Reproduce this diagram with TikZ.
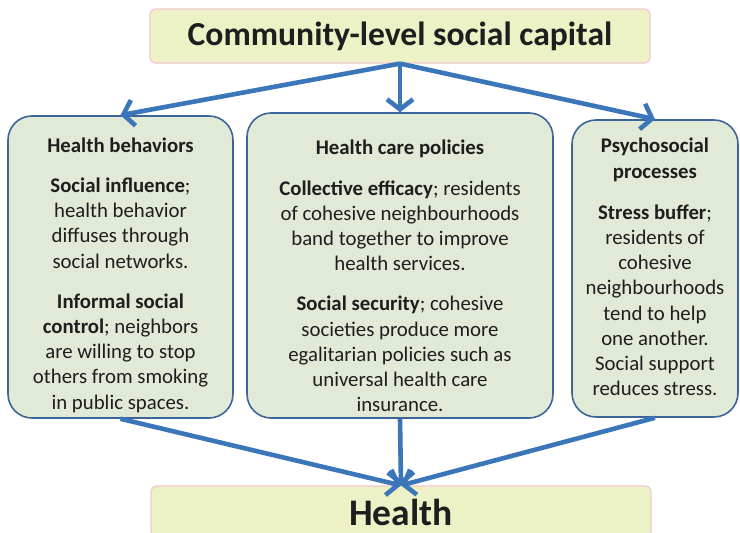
\documentclass[tikz,border=0pt]{standalone}
\usepackage{fontspec}
\setmainfont{Carlito}
\usetikzlibrary{arrows.meta}

\definecolor{capfill}{HTML}{ECF2C6}
\definecolor{capline}{HTML}{F2C8CA}
\definecolor{boxfill}{HTML}{E0EAD6}
\definecolor{boxline}{HTML}{3C6699}
\definecolor{arrowblue}{HTML}{3B76BB}
\definecolor{txt}{HTML}{1E1E1E}

\begin{document}
\begin{tikzpicture}[x=1pt,y=-1pt,text=txt,
    font=\fontsize{20.8}{25.2}\selectfont,
    outcome/.style={draw=capline,line width=1.2pt,fill=capfill,
        rounded corners=6pt,minimum width=500pt,inner sep=0pt,
        font=\fontsize{33.6}{38}\selectfont\bfseries},
    pathbox/.style={draw=boxline,line width=1.6pt,fill=boxfill,
        rounded corners=24pt,inner sep=0pt},
    pathtext/.style={align=center,inner sep=0pt},
    link/.style={draw=arrowblue,line width=4.6pt,
        -{Straight Barb[length=10pt,width=26pt]}}]
    \useasboundingbox (0,0) rectangle (740,533);
    \clip (0,0) rectangle (740,533);

    \node[outcome,minimum height=54pt] (capital) at (400,36)
        {Community-level social capital};
    \node[outcome,minimum height=52pt,font=\fontsize{37.5}{42}\selectfont\bfseries]
        (health) at (401,512) {Health};

    \node[pathbox,minimum width=225pt,minimum height=302pt] (behav) at (120.5,267) {};
    \node[pathbox,minimum width=306pt,minimum height=305pt] (policy) at (400,265.5) {};
    \node[pathbox,minimum width=166pt,minimum height=297pt] (psych) at (655,268.5) {};

    \node[pathtext] (behavtxt) at (120.5,275)
        {\textbf{Health behaviors}\\[15pt]
         \textbf{Social influence};\\
         health behavior\\
         diffuses through\\
         social networks.\\[15pt]
         \textbf{Informal social}\\
         \textbf{control}; neighbors\\
         are willing to stop\\
         others from smoking\\
         in public spaces.};
    \node[pathtext] (policytxt) at (400,276)
        {\textbf{Health care policies}\\[15pt]
         \textbf{Collective efficacy}; residents\\
         of cohesive neighbourhoods\\
         band together to improve\\
         health services.\\[15pt]
         \textbf{Social security}; cohesive\\
         societies produce more\\
         egalitarian policies such as\\
         universal health care\\
         insurance.};
    \node[pathtext] (psychtxt) at (655,267)
        {\textbf{Psychosocial}\\
         \textbf{processes}\\[16pt]
         \textbf{Stress buffer};\\
         residents of\\
         cohesive\\
         neighbourhoods\\
         tend to help\\
         one another.\\
         Social support\\
         reduces stress.};

    \draw[link] (capital.south) -- (behav.north);
    \draw[link] (capital.south) -- (policy.north);
    \draw[link] (capital.south) -- (psych.north);
    \draw[link] (behav.south) -- (health.north);
    \draw[link] (policy.south) -- (health.north);
    \draw[link] (psych.south) -- (health.north);
\end{tikzpicture}
\end{document}
